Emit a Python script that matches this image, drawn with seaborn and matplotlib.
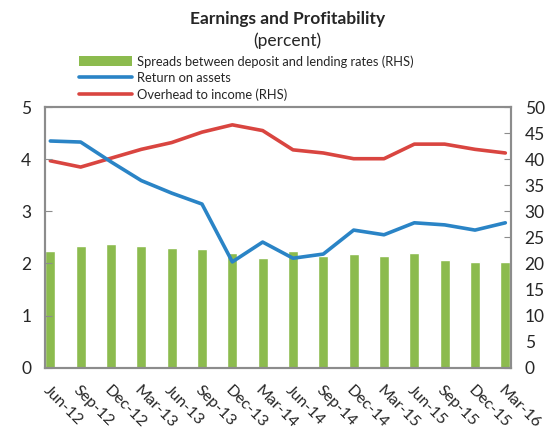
import numpy as np
import pandas as pd
import seaborn as sns
import matplotlib.pyplot as plt
from matplotlib.patches import Patch
from matplotlib.lines import Line2D

# ------------------- DATA -------------------

quarters = ["Jun-12", "Sep-12", "Dec-12", "Mar-13", "Jun-13", "Sep-13", "Dec-13", "Mar-14",
            "Jun-14", "Sep-14", "Dec-14", "Mar-15", "Jun-15", "Sep-15", "Dec-15", "Mar-16"]
spreads = [22.3, 23.4, 23.7, 23.4, 23.0, 22.7, 22.0, 21.1,
           22.3, 21.4, 21.8, 21.4, 22.0, 20.7, 20.3, 20.3]          # RHS
roa = [4.35, 4.33, 3.95, 3.59, 3.35, 3.14, 2.03, 2.41,
       2.10, 2.18, 2.64, 2.55, 2.78, 2.74, 2.64, 2.78]              # LHS
overhead = [39.7, 38.5, 40.2, 41.9, 43.2, 45.2, 46.6, 45.5,
            41.8, 41.2, 40.1, 40.1, 42.9, 42.9, 41.9, 41.2]         # RHS

df = pd.DataFrame({"quarter": quarters, "pos": np.arange(len(quarters)),
                   "spreads": spreads, "roa": roa, "overhead": overhead})

green = "#8cbb4e"
blue = "#2a84c6"
red = "#d94540"
grey = "#8c8c8c"

# ------------------- PLOT -------------------

sns.set_style("white")
plt.rcParams["font.family"] = ["Lato", "DejaVu Sans"]

fig = plt.figure(figsize=(5.53, 4.32), dpi=100)
ax = fig.add_axes([0.0814, 0.149, 0.842, 0.603])   # RHS scale (bars + overhead)

sns.barplot(data=df, x="quarter", y="spreads", color=green, width=0.33,
            saturation=1, ax=ax, zorder=1)
sns.lineplot(data=df, x="pos", y="overhead", color=red, linewidth=2.6, ax=ax, zorder=3)

# blue line on its own axis (left scale), drawn above the bars
ax2 = ax.twinx()
sns.lineplot(data=df, x="pos", y="roa", color=blue, linewidth=2.6, ax=ax2, zorder=3)

ax.yaxis.tick_right()
ax.set_ylim(0, 50)
ax.set_yticks(range(0, 51, 5))
ax2.yaxis.tick_left()
ax2.set_ylim(0, 5)
ax2.set_yticks(range(0, 6))

ax.set_xlim(-0.175, len(quarters) - 1 + 0.175)
ax.set_xticks(range(len(quarters)))
ax.set_xticklabels(quarters, rotation=-45, ha="left", va="top",
                   rotation_mode="anchor", fontsize=11.5)

for a in (ax, ax2):
    a.set_xlabel("")
    a.set_ylabel("")
    for s in a.spines.values():
        s.set_color(grey)
        s.set_linewidth(1.5)
ax.tick_params(axis="y", direction="in", length=5, color=grey, labelsize=12.5, pad=10)
ax2.tick_params(axis="y", direction="in", length=5, color=grey, labelsize=12.5, pad=10)
ax.tick_params(axis="x", length=0, pad=11)

fig.text(0.52, 0.957, "Earnings and Profitability", ha="center", va="center",
         fontsize=12.5, fontweight="bold")
fig.text(0.52, 0.905, "(percent)", ha="center", va="center", fontsize=12.5)

handles = [Patch(facecolor=green, edgecolor="none"),
           Line2D([], [], color=blue, linewidth=2.6),
           Line2D([], [], color=red, linewidth=2.6)]
labels = ["Spreads between deposit and lending rates (RHS)",
          "Return on assets",
          "Overhead to income (RHS)"]
fig.legend(handles, labels, loc="upper left", bbox_to_anchor=(0.143, 0.872),
           frameon=False, fontsize=9.3, handlelength=4.1, handleheight=0.8,
           handletextpad=0.4, labelspacing=0.32, borderpad=0, borderaxespad=0)

fig.savefig("out.png", dpi=100)
